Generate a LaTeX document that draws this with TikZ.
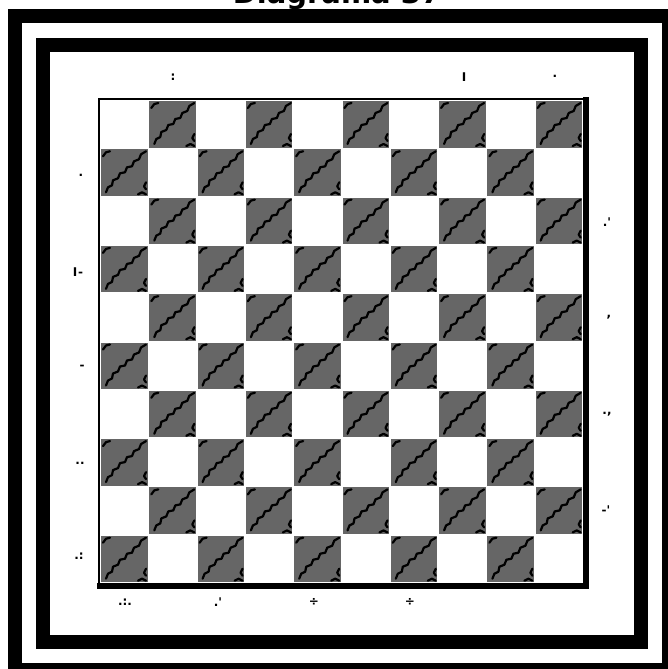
\documentclass[tikz,border=0pt]{standalone}
\usepackage{fontspec}
\newfontfamily\titlefont{DejaVu Sans}
\begin{document}
\begin{tikzpicture}[
  x=1pt, y=-1pt,
  frame/.style={line width=14pt},
  cell/.style={fill=black!60},
  squig/.style={line width=2.2pt, line join=round, line cap=round},
  lbl/.style={font=\titlefont\fontsize{12}{12}\selectfont\bfseries, inner sep=0pt}
]
\useasboundingbox (0,0) rectangle (667,669);
\node[font=\titlefont\bfseries\fontsize{29}{29}\selectfont, anchor=base] (title) at (337,4) {Diagrama 37};

% frames
\draw[frame] (15,16.5) rectangle (669,670);
\draw[frame] (43,45) rectangle (640.5,642);

% board
\def\sq{48.3}
\foreach \r in {0,...,9}
  \foreach \c in {0,...,9} {
    \pgfmathparse{int(mod(\r+\c,2))}
    \ifnum\pgfmathresult=1
      \begin{scope}[shift={({100+\c*\sq},{100+\r*\sq})}]
        \fill[cell] (1,1) rectangle (47.5,47.5);
        \draw[squig] (6,44) -- (8,39) -- (12,37) -- (13,32) -- (18,30) -- (20,25)
          -- (25,24) -- (27,19) -- (32,18) -- (34,13) -- (39,11) -- (41,6) -- (46,3);
        \draw[squig] (3,8) -- (6,4) -- (10,3);
        \draw[squig] (38,46) -- (42,44) -- (46,46);
        \draw[squig] (46,34) -- (44,38) -- (46,41);
      \end{scope}
    \fi
  }
\draw[line width=2pt] (99,584) -- (99,99) -- (584,99);
\fill (583,97) rectangle (589,589);
\fill (97,583) rectangle (589,589);

% marks round the board
\node[lbl] (tA) at (173,77) {:};
\node[lbl] (tB) at (464,77) {I};
\node[lbl] (tC) at (555,76) {.};
\node[lbl] (lA) at (81,175) {.};
\node[lbl] (lB) at (78,272) {I\kern1pt-};
\node[lbl] (lC) at (82,367) {-};
\node[lbl] (lD) at (80,463) {..};
\node[lbl] (lE) at (79,556) {.:};
\node[lbl] (rA) at (607,222) {.'};
\node[lbl] (rB) at (609,317) {,};
\node[lbl] (rC) at (607,414) {.,};
\node[lbl] (rD) at (606,510) {-'};
\node[lbl] (bA) at (125,602) {.:.};
\node[lbl] (bB) at (218,602) {.'};
\node[lbl] (bC) at (314,602) {÷};
\node[lbl] (bD) at (410,602) {÷};
\end{tikzpicture}
\end{document}
